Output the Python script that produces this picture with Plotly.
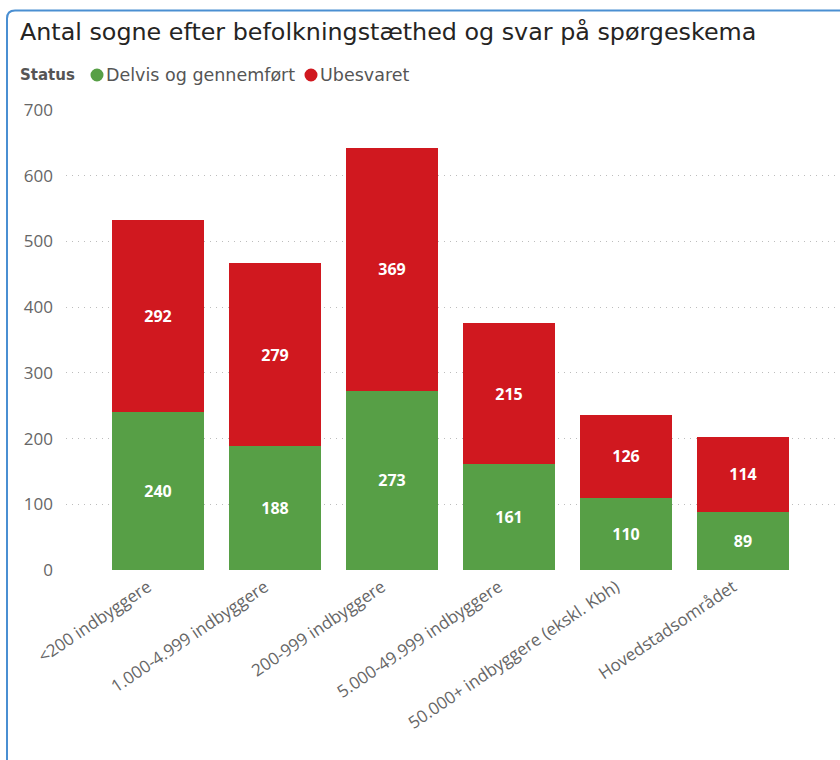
import plotly.graph_objects as go

categories = [
    "<200 indbyggere",
    "1.000-4.999 indbyggere",
    "200-999 indbyggere",
    "5.000-49.999 indbyggere",
    "50.000+ indbyggere (ekskl. Kbh)",
    "Hovedstadsområdet",
]
delvis = [240, 188, 273, 161, 110, 89]
ubesvaret = [292, 279, 369, 215, 126, 114]

GREEN = "#579F46"
RED = "#D0181F"
W, H = 840, 760
ML, MR, MT, MB = 66, 0, 110, 190

fig = go.Figure()

for name, vals, color in [("Delvis og gennemført", delvis, GREEN), ("Ubesvaret", ubesvaret, RED)]:
    fig.add_trace(
        go.Bar(
            x=categories,
            y=vals,
            name=name,
            marker=dict(color=color, line=dict(width=0)),
            text=vals,
            textposition="inside",
            insidetextanchor="middle",
            textfont=dict(color="white", size=16, family="Open Sans", weight="bold"),
            textangle=0,
            showlegend=False,
        )
    )


# pixel -> paper coordinates (for border and legend)
def px(x):
    return (x - ML) / (W - ML - MR)


def py(y):
    return (H - MB - y) / (H - MT - MB)


r = 8
x0, y0 = 7, 10.5
border = (
    f"M {px(x0)},{py(H + 10)} L {px(x0)},{py(y0 + r)} "
    f"Q {px(x0)},{py(y0)} {px(x0 + r)},{py(y0)} L {px(W + 10)},{py(y0)}"
)

shapes = [
    dict(type="path", path=border, xref="paper", yref="paper",
         line=dict(color="#4A8FD2", width=2)),
]
legend_font = dict(size=17.5, color="#555555", family="DejaVu Sans")
annotations = [
    dict(text="<b>Status</b>", x=px(18), y=py(75), xref="paper", yref="paper",
         xanchor="left", yanchor="middle", showarrow=False,
         font=dict(size=15, color="#555555", family="DejaVu Sans")),
]

# legend: circle + label, Power BI style
legend_items = [("Delvis og gennemført", GREEN, 97, 104), ("Ubesvaret", RED, 311, 318)]
for label, color, cx, tx in legend_items:
    shapes.append(dict(type="circle", xref="paper", yref="paper",
                       xsizemode="pixel", ysizemode="pixel",
                       xanchor=px(cx), yanchor=py(75),
                       x0=-6.5, x1=6.5, y0=-6.5, y1=6.5,
                       fillcolor=color, line=dict(width=0)))
    annotations.append(dict(text=label, x=px(tx), y=py(75), xref="paper", yref="paper",
                            xanchor="left", yanchor="middle", showarrow=False,
                            font=legend_font))

fig.update_layout(
    width=W,
    height=H,
    barmode="stack",
    bargap=0.22,
    plot_bgcolor="white",
    paper_bgcolor="white",
    margin=dict(l=ML, r=MR, t=MT, b=MB, autoexpand=False),
    font=dict(family="Open Sans", color="#666666"),
    showlegend=False,
    title=dict(
        text="Antal sogne efter befolkningstæthed og svar på spørgeskema",
        x=20 / W,
        xanchor="left",
        y=1 - 32 / H,
        yanchor="middle",
        font=dict(size=23.8, color="#252423", family="DejaVu Sans"),
    ),
    xaxis=dict(
        range=[-0.786, 5.829],
        tickangle=-34,
        tickfont=dict(size=17, color="#666666"),
        showgrid=False,
        showline=False,
        zeroline=False,
        ticklabelstandoff=3,
        ticklabelshift=-10,
        automargin=False,
    ),
    yaxis=dict(
        range=[0, 700],
        dtick=100,
        tickfont=dict(size=17, color="#666666"),
        showgrid=True,
        gridcolor="#BDBDBD",
        griddash="1px,5px",
        gridwidth=1,
        zeroline=False,
        ticklabelstandoff=12,
        automargin=False,
    ),
    shapes=shapes,
    annotations=annotations,
)

fig.write_html(
    "out.html",
    config={"displayModeBar": False},
    post_script="document.body.style.margin='0';document.body.style.overflow='hidden';",
)
